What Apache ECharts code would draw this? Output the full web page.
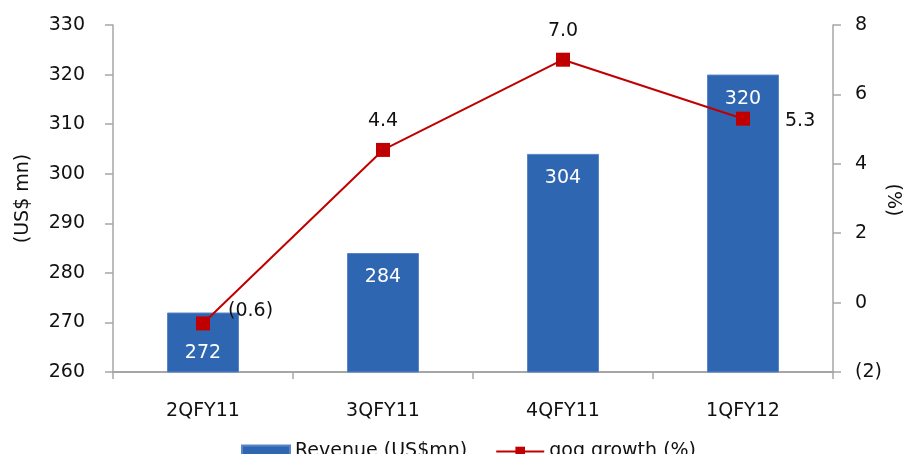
<!DOCTYPE html>
<html>
<head>
<meta charset="utf-8">
<script src="https://cdn.jsdelivr.net/npm/echarts@6/dist/echarts.min.js"></script>
<style>
  html, body { margin: 0; padding: 0; background: #fff; }
  #chart { width: 906px; height: 454px; }
</style>
</head>
<body>
<div id="chart"></div>
<script>
// Quarterly revenue and quarter-on-quarter growth
const quarters = ['2QFY11', '3QFY11', '4QFY11', '1QFY12'];
const revenue = [272, 284, 304, 320];          // US$ mn
const qoqGrowth = [-0.6, 4.4, 7.0, 5.3];       // %

const FONT = 'DejaVu Sans';
const FS = 19;
const AXIS_GREY = '#a6a6a6';
const BAR_BLUE = '#2f66b1';
const LINE_RED = '#c00000';

// Accounting-style: negatives in brackets
const fmtPct = (v, digits) => v < 0 ? '(' + Math.abs(v).toFixed(digits) + ')' : v.toFixed(digits);

const barLabelPos = ['insideBottom', 'insideTop', 'insideTop', 'insideTop'];
const barLabelDist = [10, 15, 15, 15];
const lineLabelPos = ['right', 'top', 'top', 'right'];
const lineLabelDist = [18, 12, 12, 35];
const lineLabelOffset = [[0, -12], [0, 0], [0, 0], [0, 2]];

const chart = echarts.init(document.getElementById('chart'));
chart.setOption({
  animation: false,
  textStyle: { fontFamily: FONT },
  grid: { left: 113, right: 73, top: 25, bottom: 82, containLabel: false, outerBoundsMode: 'none' },
  // Secondary axis title, rotated to read top-to-bottom
  graphic: [{
    type: 'text',
    x: 893,
    y: 200,
    rotation: -Math.PI / 2,
    style: {
      text: '(%)',
      fontFamily: FONT,
      fontSize: FS,
      fill: '#111',
      align: 'center',
      verticalAlign: 'middle'
    }
  }],
  legend: {
    top: 437,
    left: 236,
    itemGap: 28,
    itemWidth: 48,
    itemHeight: 12,
    textStyle: { fontFamily: FONT, fontSize: FS, color: '#111' },
    data: [
      { name: 'Revenue (US$mn)', icon: 'rect' },
      { name: 'qoq growth (%)' }
    ]
  },
  xAxis: {
    type: 'category',
    data: quarters,
    axisLine: { onZero: false, lineStyle: { color: AXIS_GREY, width: 2 } },
    axisTick: { show: true, length: 7, lineStyle: { color: AXIS_GREY, width: 1.5 } },
    axisLabel: { fontFamily: FONT, fontSize: FS, color: '#111', margin: 30 }
  },
  yAxis: [
    {
      type: 'value',
      min: 260, max: 330, interval: 10,
      name: '(US$ mn)',
      nameLocation: 'middle',
      nameGap: 80,
      nameRotate: 90,
      nameTextStyle: { fontFamily: FONT, fontSize: FS, color: '#111' },
      axisLine: { show: true, lineStyle: { color: AXIS_GREY, width: 1.5 } },
      axisTick: { show: true, length: 8, lineStyle: { color: AXIS_GREY, width: 1.5 } },
      axisLabel: { fontFamily: FONT, fontSize: FS, color: '#111', margin: 28 },
      splitLine: { show: false }
    },
    {
      type: 'value',
      min: -2, max: 8, interval: 2,
      position: 'right',
      axisLine: { show: true, lineStyle: { color: AXIS_GREY, width: 1.5 } },
      axisTick: { show: true, length: 8, lineStyle: { color: AXIS_GREY, width: 1.5 } },
      axisLabel: {
        fontFamily: FONT, fontSize: FS, color: '#111', margin: 22,
        formatter: v => fmtPct(v, 0)
      },
      splitLine: { show: false }
    }
  ],
  series: [
    {
      name: 'Revenue (US$mn)',
      type: 'bar',
      yAxisIndex: 0,
      barWidth: '40%',
      itemStyle: { color: BAR_BLUE, borderColor: '#5a86c8', borderWidth: 1 },
      data: revenue.map((v, i) => ({
        value: v,
        label: {
          show: true,
          position: barLabelPos[i],
          distance: barLabelDist[i],
          color: '#fff',
          fontFamily: FONT,
          fontSize: FS
        }
      }))
    },
    {
      name: 'qoq growth (%)',
      type: 'line',
      yAxisIndex: 1,
      symbol: 'rect',
      symbolSize: 14,
      lineStyle: { color: LINE_RED, width: 2 },
      itemStyle: { color: LINE_RED },
      z: 5,
      data: qoqGrowth.map((v, i) => ({
        value: v,
        label: {
          show: true,
          position: lineLabelPos[i],
          distance: lineLabelDist[i],
          offset: lineLabelOffset[i],
          color: '#111',
          fontFamily: FONT,
          fontSize: FS,
          formatter: p => fmtPct(p.value, 1)
        }
      }))
    }
  ]
});
</script>
</body>
</html>
